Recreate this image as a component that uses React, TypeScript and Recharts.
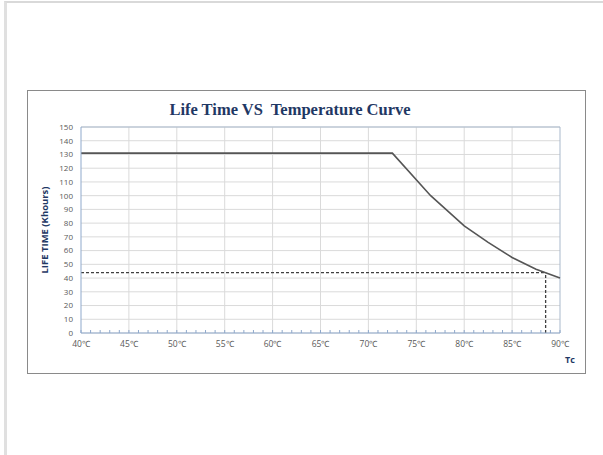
import React from 'react';
import { LineChart, Line, XAxis, YAxis, CartesianGrid, ReferenceLine } from 'recharts';

// Readings (Tc in °C, life in khours)
const temps = [40, 72.5, 76.5, 80, 82.5, 85, 87.5, 90];
const lifeTimes = [131, 131, 100, 78, 66, 55, 46.5, 40];

const xTicks = Array.from({ length: 51 }, (_, i) => 40 + i);
const gridTemps = [45, 50, 55, 60, 65, 70, 75, 80, 85];
const yTicks = [0, 10, 20, 30, 40, 50, 60, 70, 80, 90, 100, 110, 120, 130, 140, 150];

// rated point (dashed guide lines)
const ratedTemp = 88.5;
const ratedLife = 44;

const data = temps.map((t, i) => ({ t, life: lifeTimes[i] }));

const AXIS = '#8fa9cc';
const GRID = '#dadada';
const TEXT = '#595959';
const NAVY = '#1f3864';

const XTick = ({ x, y, payload }: any) => {
  const v = payload.value;
  const major = v % 5 === 0;
  return (
    <g>
      <line x1={x} x2={x} y1={y} y2={y - 3} stroke={AXIS} strokeWidth={1} />
      {major && (
        <text x={x} y={y + 14} textAnchor="middle" fontSize={8.5} fill={TEXT} fontFamily="'Open Sans', sans-serif">
          {`${v}℃`}
        </text>
      )}
    </g>
  );
};

const YLabel = ({ viewBox }: any) => {
  const cx = viewBox.x + 16;
  const cy = viewBox.y + viewBox.height / 2;
  return (
    <text
      x={cx}
      y={cy}
      transform={`rotate(-90 ${cx} ${cy})`}
      textAnchor="middle"
      dominantBaseline="central"
      fontSize={9.5}
      fontWeight="bold"
      fill={NAVY}
      fontFamily="'Open Sans', sans-serif"
    >
      LIFE TIME (Khours)
    </text>
  );
};

export default function App() {
  return (
    <div style={{ position: 'absolute', left: 0, top: 0, width: 603, height: 455, background: '#fff' }}>
      {/* page frame */}
      <div style={{ position: 'absolute', left: 4, top: 1, width: 599, height: 454, borderTop: '2px solid #d9d9d9', borderLeft: '3px solid #e0e0e0' }} />

      <div style={{ position: 'absolute', left: 27, top: 90, width: 557, height: 282, border: '1px solid #8a8a8a', background: '#fff' }}>
        <div
          style={{
            position: 'absolute',
            left: 0,
            width: 524,
            top: 9,
            textAlign: 'center',
            fontFamily: "'Liberation Serif', serif",
            fontWeight: 'bold',
            fontSize: 16.5,
            color: NAVY,
          }}
        >
          Life Time VS&nbsp; Temperature Curve
        </div>

        <LineChart width={557} height={280} data={data} margin={{ top: 36, right: 25, left: 0, bottom: 22 }}>
          <CartesianGrid vertical={false} stroke={GRID} />
          {gridTemps.map((g) => (
            <ReferenceLine key={g} x={g} stroke={GRID} />
          ))}
          <ReferenceLine x={90} stroke="#a9b9cc" />
          <ReferenceLine y={150} stroke="#a9b9cc" />
          <XAxis
            dataKey="t"
            type="number"
            domain={[40, 90]}
            ticks={xTicks}
            interval={0}
            tickLine={false}
            tickSize={0}
            tickMargin={0}
            stroke={AXIS}
            tick={<XTick />}
            height={16}
          />
          <YAxis
            type="number"
            domain={[0, 150]}
            ticks={yTicks}
            interval={0}
            width={53}
            tickLine={false}
            stroke={AXIS}
            tickMargin={2}
            tick={{ fontSize: 8, fill: TEXT, fontFamily: "'Open Sans', sans-serif" }}
            label={<YLabel />}
          />
          <ReferenceLine
            segment={[{ x: 40, y: ratedLife }, { x: ratedTemp, y: ratedLife }]}
            stroke="#404040"
            strokeWidth={1.3}
            strokeDasharray="3 2"
          />
          <ReferenceLine
            segment={[{ x: ratedTemp, y: 0 }, { x: ratedTemp, y: ratedLife }]}
            stroke="#404040"
            strokeWidth={1.3}
            strokeDasharray="3 2"
          />
          <Line
            type="linear"
            dataKey="life"
            stroke="#555555"
            strokeWidth={1.6}
            dot={false}
            isAnimationActive={false}
          />
        </LineChart>

        <div
          style={{
            position: 'absolute',
            left: 537,
            top: 262,
            fontFamily: "'Open Sans', sans-serif",
            fontWeight: 'bold',
            fontSize: 9,
            color: NAVY,
          }}
        >
          Tc
        </div>
      </div>
    </div>
  );
}
